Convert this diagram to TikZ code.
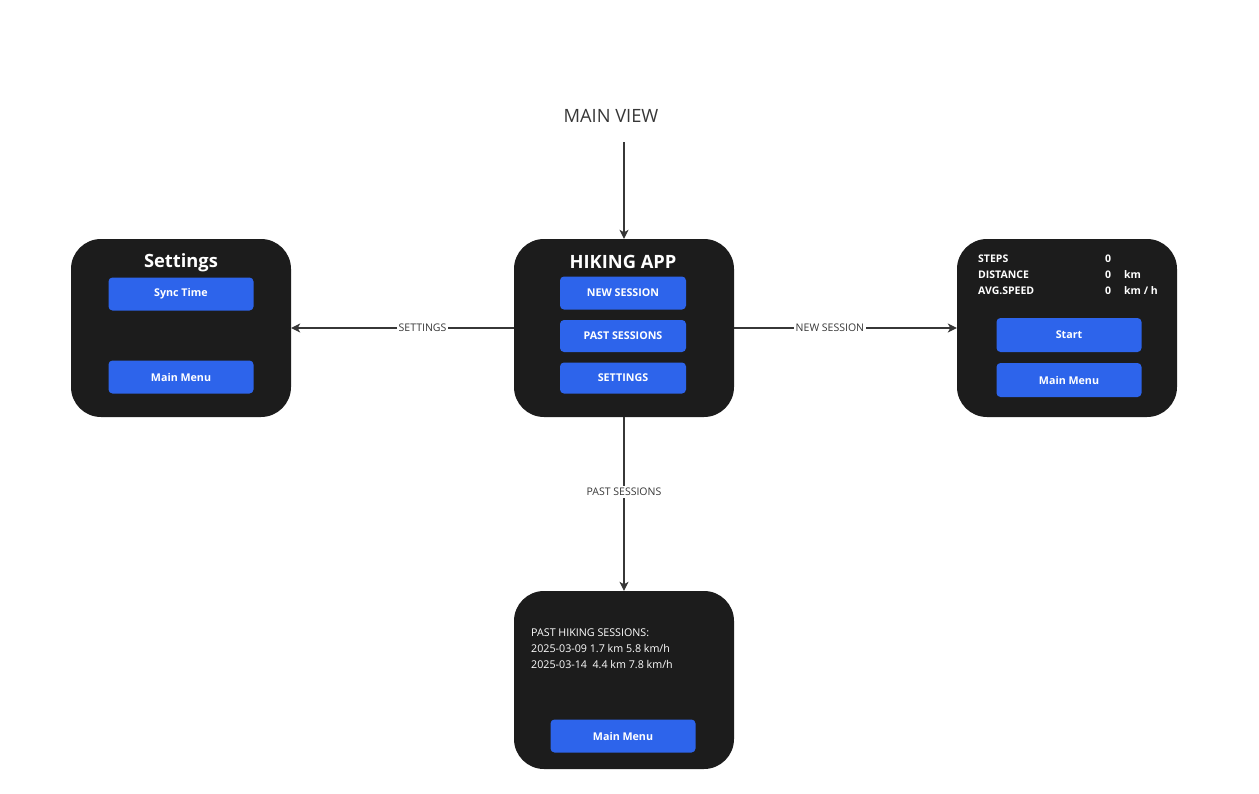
\documentclass[tikz,border=0pt]{standalone}
\usepackage{fontspec}
\setmainfont{Open Sans}
\usetikzlibrary{arrows.meta}
\definecolor{screenfill}{RGB}{28,28,28}
\definecolor{btnblue}{RGB}{45,100,235}
\definecolor{linegray}{RGB}{55,55,55}

\begin{document}
\begin{tikzpicture}[x=1pt,y=-1pt,
        screen/.style={draw=none,fill=screenfill,rounded corners=30pt,minimum width=220pt,minimum height=178pt,inner sep=0pt},
        btn/.style={fill=btnblue,rounded corners=4pt,text=white,font=\fontsize{10.7}{12}\selectfont\bfseries,minimum width=145pt,minimum height=33pt,inner sep=0pt},
        heading/.style={text=white,font=\fontsize{18.3}{22}\selectfont\bfseries,inner sep=0pt},
        info/.style={text=white,font=\fontsize{10.5}{12}\selectfont\bfseries,inner sep=0pt,anchor=west},
        lbl/.style={fill=white,text=linegray,font=\fontsize{10.5}{12}\selectfont,inner sep=2pt},
        conn/.style={draw=linegray,line width=1.1pt,-{Stealth[length=9pt,width=9pt,inset=2.5pt]}}]
    \useasboundingbox[fill=white] (0,0) rectangle (1259,793);
    % main view
    \node[text=linegray,font=\fontsize{18.3}{22}\selectfont] (mainview) at (611,116) {MAIN VIEW};
    \coordinate (entry) at (624,142);
    \node[screen] (main) at (624,328) {};
    \node[heading] (hikingtitle) at (623,262) {HIKING APP};
    \node[btn,minimum width=126pt] (newbtn) at (623,293) {NEW SESSION};
    \node[btn,minimum width=126pt,minimum height=32pt] (pastbtn) at (623,336) {PAST SESSIONS};
    \node[btn,minimum width=126pt,minimum height=31pt] (setbtn) at (623,378) {SETTINGS};
    % settings
    \node[screen] (settings) at (181,328) {};
    \node[heading] (settingstitle) at (181,263) {Settings};
    \node[btn] (syncbtn) at (181,294) {Sync Time};
    \node[btn] (setmenubtn) at (181,377) {Main Menu};
    % new session
    \node[screen] (newsess) at (1067,328) {};
    \node[info] (steps) at (978,259) {STEPS};
    \node[info] (distance) at (978,275) {DISTANCE};
    \node[info] (avgspeed) at (978,291) {AVG.SPEED};
    \node[info] (stepsval) at (1105,259) {0};
    \node[info] (distval) at (1105,275) {0};
    \node[info] (speedval) at (1105,291) {0};
    \node[info] (distunit) at (1124,275) {km};
    \node[info] (speedunit) at (1124,291) {km / h};
    \node[btn,minimum height=34pt] (startbtn) at (1069,335) {Start};
    \node[btn,minimum height=34pt] (newmenubtn) at (1069,380) {Main Menu};
    % past sessions
    \node[screen] (past) at (624,680) {};
    \node[text=white,font=\fontsize{10.7}{16}\selectfont,align=left,anchor=north west,inner sep=0pt] (history) at (531,629)
        {PAST HIKING SESSIONS:\\2025-03-09 1.7 km 5.8 km/h\\2025-03-14\ \ 4.4 km 7.8 km/h};
    \node[btn] (pastmenubtn) at (623,736) {Main Menu};
    % connectors
    \draw[conn] (entry) -- (main.north);
    \draw[conn] (main.west) -- node[lbl,pos=0.41] {SETTINGS} (settings.east);
    \draw[conn] (main.east) -- node[lbl,pos=0.43] {NEW SESSION} (newsess.west);
    \draw[conn] (main.south) -- node[lbl,pos=0.43] {PAST SESSIONS} (past.north);
\end{tikzpicture}
\end{document}
